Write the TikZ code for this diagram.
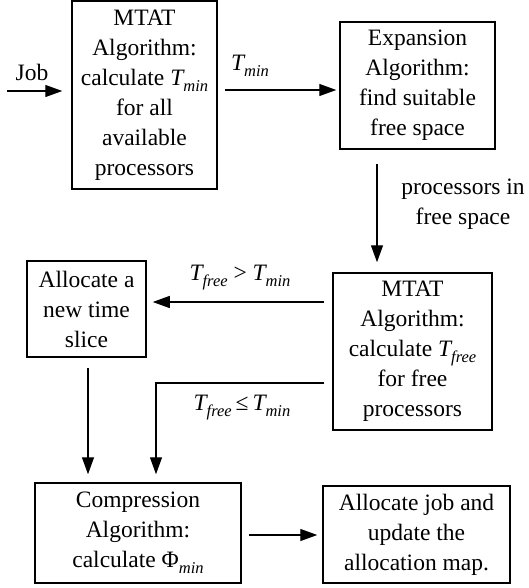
\documentclass[tikz,border=0pt]{standalone}
\usepackage{fontspec}
\newfontfamily\timesfont{Liberation Serif}
\usetikzlibrary{arrows.meta}
% lowered italic subscript
\newcommand\lowsub[1]{\raisebox{-6pt}{\fontsize{16.5}{16.5}\selectfont\itshape #1}}
\newcommand\Tmin{{\itshape T}\lowsub{min}}
\newcommand\Tfree{{\itshape T}\lowsub{free}}
\begin{document}
\begin{tikzpicture}[x=1pt,y=-1pt,
  font=\timesfont\fontsize{23.5}{30}\selectfont,
  box/.style={draw, line width=1.5pt, inner sep=0pt, align=center},
  arr/.style={-{Triangle[length=17pt,width=12pt]}, line width=1.3pt},
  lbl/.style={inner sep=0pt, align=center}]
\useasboundingbox (0,0) rectangle (529,588);

% process boxes
\node[box, minimum width=145pt, minimum height=188pt] (mtat1) at (144.5,95)
  {MTAT\\Algorithm:\\calculate \Tmin\\for all\\available\\processors};
\node[box, minimum width=155pt, minimum height=127pt] (expand) at (417.5,85.5)
  {Expansion\\Algorithm:\\find suitable\\free space};
\node[box, minimum width=159pt, minimum height=157pt] (mtat2) at (412.5,351.5)
  {MTAT\\Algorithm:\\calculate \Tfree\\for free\\processors};
\node[box, minimum width=119pt, minimum height=96pt] (slice) at (86.5,309)
  {Allocate a\\new time\\slice};
\node[box, minimum width=206pt, minimum height=100pt] (compress) at (138,533)
  {Compression\\Algorithm:\\calculate Φ\lowsub{min}};
\node[box, minimum width=187pt, minimum height=97pt] (alloc) at (416.5,534.5)
  {Allocate job and\\update the\\allocation map.};

% incoming job
\coordinate (jobin) at (7,91);
\draw[arr, shorten >=9pt] (jobin) -- (jobin -| mtat1.west);
\node[lbl] (joblbl) at (32,72) {Job};

% T_min to expansion
\draw[arr, shorten <=7pt, shorten >=3pt] (mtat1.east |- 0,90) -- (expand.west |- 0,90);
\node[lbl] (tminlbl) at (250,66) {\Tmin};

% expansion down to second MTAT
\draw[arr, shorten <=14pt, shorten >=10pt] (expand.south -| 377,0) -- (mtat2.north -| 377,0);
\node[lbl] (proclbl) at (463,204) {processors in\\free space};

% T_free > T_min: new time slice
\draw[arr, shorten <=8pt, shorten >=6pt] (mtat2.west |- 0,302) -- (slice.east |- 0,302);
\node[lbl] (gtlbl) at (240,278) {\Tfree\ > \Tmin};

% T_free <= T_min: compression
\coordinate (bend) at (156,383);
\draw[arr, shorten <=8pt, shorten >=8pt] (mtat2.west |- bend) -- (bend) -- (compress.north -| bend);
\node[lbl] (lelbl) at (242,408) {\Tfree\,≤\,\Tmin};

% new time slice down to compression
\draw[arr, shorten <=10pt, shorten >=8pt] (slice.south -| 88,0) -- (compress.north -| 88,0);

% compression to final allocation
\draw[arr, shorten <=7pt, shorten >=5pt] (compress.east |- 0,535) -- (alloc.west |- 0,535);
\end{tikzpicture}
\end{document}
